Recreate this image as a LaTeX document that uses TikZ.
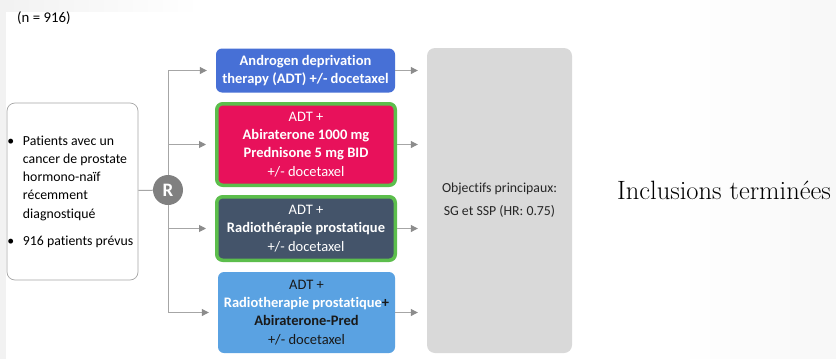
\documentclass[tikz,border=0pt]{standalone}
\usepackage{fontspec}
\newfontfamily\carl[RawFeature={-liga,-clig,-dlig}]{Carlito}
\usetikzlibrary{arrows.meta}
\definecolor{adtblue}{RGB}{71,112,214}
\definecolor{abipink}{RGB}{232,17,91}
\definecolor{armgreen}{RGB}{92,190,76}
\definecolor{slate}{RGB}{68,84,106}
\definecolor{skyblue}{RGB}{90,162,226}
\definecolor{panelgray}{RGB}{217,217,217}
\definecolor{rgray}{RGB}{128,128,128}
\definecolor{linegray}{RGB}{166,166,166}
\definecolor{tipgray}{RGB}{140,140,140}
\definecolor{edgegray}{RGB}{242,242,242}
\tikzset{
  txt/.style={font=\carl\fontsize{14.5}{18.2}\selectfont, align=center, inner sep=0pt},
  arm/.style={txt, rounded corners=6pt, text=white},
  greenarm/.style={arm, draw=armgreen, line width=3.5pt},
  conn/.style={draw=linegray, line width=1pt,
    -{Triangle[length=7pt,width=7pt,color=tipgray,fill=tipgray]}},
}
\begin{document}
\begin{tikzpicture}[x=1pt,y=-1pt]
% page area and soft edges
\useasboundingbox (0,0) rectangle (836,359);
\fill[white] (0,0) rectangle (836,359);
\fill[edgegray] (0,0) rectangle (6,359);
\shade[left color=edgegray,right color=white] (6,0) rectangle (200,11);
\shade[left color=white,right color=edgegray!60] (680,0) rectangle (836,359);

% header
\node[txt, anchor=west, font=\carl\fontsize{14.8}{18}\selectfont] (n) at (17,18) {(n = 916)};

% inclusion criteria
\node[draw=rgray!70, line width=0.7pt, rounded corners=8pt,
      minimum width=131, minimum height=177, inner sep=0pt,
      font=\carl\fontsize{13.8}{18.25}\selectfont] (pat) at (72.5,191.5)
  {\begin{tabular}{@{}l@{}l@{}}
    \makebox[16pt][l]{\hspace*{0.5pt}\textbullet} & Patients avec un\\
     & cancer de prostate\\
     & hormono-naïf\\
     & récemment\\
     & diagnostiqué\\[9pt]
    \makebox[16pt][l]{\hspace*{0.5pt}\textbullet} & \makebox[115pt][l]{916 patients prévus}
  \end{tabular}};

% randomisation
\node[circle, fill=rgray, minimum size=30, inner sep=0pt, text=white,
      font=\carl\bfseries\fontsize{19}{20}\selectfont] (R) at (168,190) {R};

% treatment arms
\node[arm, fill=adtblue, minimum width=179, minimum height=44] (b1) at (305.5,70.5)
  {\bfseries Androgen deprivation\\ \bfseries therapy (ADT) +/- docetaxel};
\node[greenarm, fill=abipink, minimum width=178.5, minimum height=81.5] (b2) at (306,144.5)
  {ADT +\\ \bfseries Abiraterone 1000 mg\\ \bfseries Prednisone 5 mg BID\\ +/- docetaxel};
\node[greenarm, fill=slate, minimum width=178.5, minimum height=63.5] (b3) at (306,228.5)
  {ADT +\\ \bfseries Radiothérapie prostatique\\ +/- docetaxel};
\node[arm, fill=skyblue, text=black!90, minimum width=177, minimum height=81] (b4) at (306.5,312.5)
  {ADT +\\ \textbf{\textcolor{white}{Radiotherapie prostatique}+}\\ \bfseries Abiraterone-Pred\\ +/- docetaxel};

% endpoints
\node[txt, fill=panelgray, rounded corners=8pt, text=black!85,
      font=\carl\fontsize{13.8}{23}\selectfont,
      minimum width=145, minimum height=305] (obj) at (499.5,200.5)
  {Objectifs principaux:\\ SG et SSP (HR: 0.75)};

\node[font=\fontsize{26.5}{30}\selectfont, inner sep=0pt] (inc) at (724,190) {Inclusions terminées};

% connectors
\draw[draw=linegray, line width=1pt] (pat) -- (R);
\foreach \b in {b1,b2,b3,b4}{
  \draw[conn, shorten >=9pt] (R) |- (\b.west);
  \draw[conn, shorten >=9pt] (\b.east) -- (\b.east -| obj.west);
}
\end{tikzpicture}
\end{document}
